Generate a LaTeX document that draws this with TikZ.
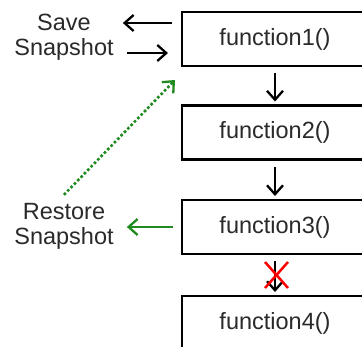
\documentclass[tikz,border=0pt]{standalone}
\usepackage{fontspec}
\setmainfont{Liberation Sans}
\usetikzlibrary{arrows.meta,calc}
\definecolor{txt}{HTML}{2A2A2A}
\definecolor{gr}{HTML}{1F8A1F}
\begin{document}
\begin{tikzpicture}[x=1pt,y=-1pt,
  fbox/.style={draw=black,line width=2.6pt,minimum width=186pt,minimum height=54pt,inner sep=0pt,outer sep=0pt,text=txt,font=\fontsize{23.5}{24}\selectfont},
  lbl/.style={align=center,inner sep=0pt,text=txt,font=\fontsize{23.5}{25}\selectfont},
  arr/.style={line width=2.3pt,-{Straight Barb[length=9pt,width=16pt,line width=2.3pt]}},
  darr/.style={arr,shorten <=7pt,shorten >=4pt}]
\useasboundingbox (0,0) rectangle (362,346);
\clip (0,0) rectangle (362,346);
\fill[white] (0,0) rectangle (362,346);
\node[fbox] (f1) at (275,39) {function1()};
\node[fbox] (f2) at (275,132.5) {function2()};
\node[fbox] (f3) at (275,227) {function3()};
\node[fbox] (f4) at (275,323) {function4()};
\node[lbl] (save) at (64,37) {Save\\Snapshot};
\node[lbl] (restore) at (64,226) {Restore\\Snapshot};
\draw[darr] (f1) -- (f2);
\draw[darr] (f2) -- (f3);
\draw[darr] (f3) -- (f4);
\coordinate (mid) at ($(f3.south)!0.5!(f4.north)$);
\draw[red,line width=2.5pt] ([xshift=-10pt,yshift=13pt]mid) -- ([xshift=13pt,yshift=-13pt]mid)
  ([xshift=13pt,yshift=13pt]mid) -- ([xshift=-10pt,yshift=-13pt]mid);
\draw[arr,shorten <=10pt,shorten >=9pt] ([yshift=16pt]f1.west) -- ([yshift=16pt]f1.west -| save.east);
\draw[arr,shorten <=13pt,shorten >=14pt] ([yshift=-14pt]f1.west -| save.east) -- ([yshift=-14pt]f1.west);
\draw[arr,gr,shorten <=9pt,shorten >=13pt] (f3.west) -- (f3.west -| restore.east);
\draw[arr,gr,line width=2.6pt,dash pattern=on 2.6pt off 2.2pt,-{Straight Barb[length=9pt,width=16pt,line width=2.3pt]}] ([yshift=8pt]restore.north) -- ([xshift=-7pt,yshift=-14pt]f1.south west);
\end{tikzpicture}
\end{document}
